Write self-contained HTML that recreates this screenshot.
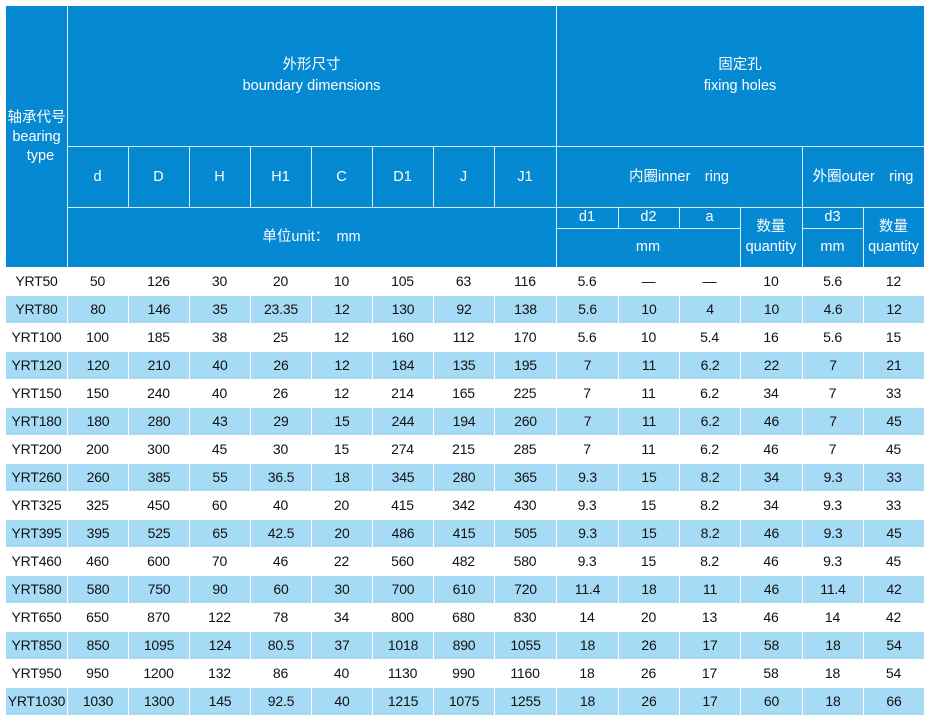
<!DOCTYPE html>
<html><head><meta charset="utf-8">
<style>
*{margin:0;padding:0;box-sizing:border-box}
html,body{width:930px;height:722px;background:#fff;overflow:hidden}
body{position:relative;font-family:"Liberation Sans","Noto Sans CJK SC",sans-serif}
#hd{position:absolute;left:6px;top:6px;width:918px;height:261px;background:#0689d3}
.v,.h{position:absolute;background:rgba(255,255,255,0.85)}
.v{width:1.3px}
.h{height:1.3px}
.t{position:absolute;color:#fff;font-size:14.5px;line-height:20px;text-align:center;white-space:nowrap}
.row{position:absolute;left:6px;width:918px;height:28px;display:flex}
.row div{height:28px;line-height:28px;text-align:center;font-size:14px;letter-spacing:-0.2px;color:#111;white-space:nowrap}
.row.b div{background:#a6dbf6;border-top:1px solid #fff;border-left:1px solid #fff;line-height:26px}
.row.b div:first-child{border-left:none}
</style></head><body>
<div id="hd"></div>
<div class="v" style="left:66.5px;top:6px;height:261px"></div>
<div class="v" style="left:556px;top:6px;height:261px"></div>
<div class="h" style="left:67px;top:146px;width:857px"></div>
<div class="h" style="left:67px;top:206.5px;width:857px"></div>
<div class="v" style="left:127.5px;top:146px;height:61px"></div>
<div class="v" style="left:188.5px;top:146px;height:61px"></div>
<div class="v" style="left:250px;top:146px;height:61px"></div>
<div class="v" style="left:311px;top:146px;height:61px"></div>
<div class="v" style="left:372px;top:146px;height:61px"></div>
<div class="v" style="left:433px;top:146px;height:61px"></div>
<div class="v" style="left:494px;top:146px;height:61px"></div>
<div class="v" style="left:801.5px;top:146px;height:121px"></div>
<div class="v" style="left:617.5px;top:207px;height:21px"></div>
<div class="v" style="left:679px;top:207px;height:21px"></div>
<div class="v" style="left:740px;top:207px;height:60px"></div>
<div class="v" style="left:862.5px;top:207px;height:60px"></div>
<div class="h" style="left:556px;top:228px;width:184px"></div>
<div class="h" style="left:802px;top:228px;width:61px"></div>

<div class="t" style="left:6px;width:61px;top:108px">轴承代号</div>
<div class="t" style="left:6px;width:61px;top:127px">bearing</div>
<div class="t" style="left:10px;width:61px;top:146px">type</div>

<div class="t" style="left:67px;width:489px;top:55px">外形尺寸</div>
<div class="t" style="left:67px;width:489px;top:76px">boundary dimensions</div>
<div class="t" style="left:556px;width:368px;top:55px">固定孔</div>
<div class="t" style="left:556px;width:368px;top:76px">fixing holes</div>

<div class="t" style="left:67px;width:61px;top:167px">d</div>
<div class="t" style="left:128px;width:61px;top:167px">D</div>
<div class="t" style="left:189px;width:61px;top:167px">H</div>
<div class="t" style="left:250px;width:61px;top:167px">H1</div>
<div class="t" style="left:311px;width:61px;top:167px">C</div>
<div class="t" style="left:372px;width:61px;top:167px">D1</div>
<div class="t" style="left:433px;width:61px;top:167px">J</div>
<div class="t" style="left:494px;width:62px;top:167px">J1</div>
<div class="t" style="left:556px;width:246px;top:167px">内圈inner　ring</div>
<div class="t" style="left:802px;width:122px;top:167px">外圈outer　ring</div>

<div class="t" style="left:67px;width:489px;top:227px">单位unit：　mm</div>
<div class="t" style="left:556px;width:62px;top:207px">d1</div>
<div class="t" style="left:618px;width:61px;top:207px">d2</div>
<div class="t" style="left:679px;width:61px;top:207px">a</div>
<div class="t" style="left:556px;width:184px;top:237px">mm</div>
<div class="t" style="left:740px;width:62px;top:217px">数量</div>
<div class="t" style="left:740px;width:62px;top:237px">quantity</div>
<div class="t" style="left:802px;width:61px;top:207px">d3</div>
<div class="t" style="left:802px;width:61px;top:237px">mm</div>
<div class="t" style="left:863px;width:61px;top:217px">数量</div>
<div class="t" style="left:863px;width:61px;top:237px">quantity</div>

<div class="row" style="top:267px"><div style="width:61px">YRT50</div><div style="width:61px">50</div><div style="width:61px">126</div><div style="width:61px">30</div><div style="width:61px">20</div><div style="width:61px">10</div><div style="width:61px">105</div><div style="width:61px">63</div><div style="width:62px">116</div><div style="width:62px">5.6</div><div style="width:61px">—</div><div style="width:61px">—</div><div style="width:62px">10</div><div style="width:61px">5.6</div><div style="width:61px">12</div></div>
<div class="row b" style="top:295px"><div style="width:61px">YRT80</div><div style="width:61px">80</div><div style="width:61px">146</div><div style="width:61px">35</div><div style="width:61px">23.35</div><div style="width:61px">12</div><div style="width:61px">130</div><div style="width:61px">92</div><div style="width:62px">138</div><div style="width:62px">5.6</div><div style="width:61px">10</div><div style="width:61px">4</div><div style="width:62px">10</div><div style="width:61px">4.6</div><div style="width:61px">12</div></div>
<div class="row" style="top:323px"><div style="width:61px">YRT100</div><div style="width:61px">100</div><div style="width:61px">185</div><div style="width:61px">38</div><div style="width:61px">25</div><div style="width:61px">12</div><div style="width:61px">160</div><div style="width:61px">112</div><div style="width:62px">170</div><div style="width:62px">5.6</div><div style="width:61px">10</div><div style="width:61px">5.4</div><div style="width:62px">16</div><div style="width:61px">5.6</div><div style="width:61px">15</div></div>
<div class="row b" style="top:351px"><div style="width:61px">YRT120</div><div style="width:61px">120</div><div style="width:61px">210</div><div style="width:61px">40</div><div style="width:61px">26</div><div style="width:61px">12</div><div style="width:61px">184</div><div style="width:61px">135</div><div style="width:62px">195</div><div style="width:62px">7</div><div style="width:61px">11</div><div style="width:61px">6.2</div><div style="width:62px">22</div><div style="width:61px">7</div><div style="width:61px">21</div></div>
<div class="row" style="top:379px"><div style="width:61px">YRT150</div><div style="width:61px">150</div><div style="width:61px">240</div><div style="width:61px">40</div><div style="width:61px">26</div><div style="width:61px">12</div><div style="width:61px">214</div><div style="width:61px">165</div><div style="width:62px">225</div><div style="width:62px">7</div><div style="width:61px">11</div><div style="width:61px">6.2</div><div style="width:62px">34</div><div style="width:61px">7</div><div style="width:61px">33</div></div>
<div class="row b" style="top:407px"><div style="width:61px">YRT180</div><div style="width:61px">180</div><div style="width:61px">280</div><div style="width:61px">43</div><div style="width:61px">29</div><div style="width:61px">15</div><div style="width:61px">244</div><div style="width:61px">194</div><div style="width:62px">260</div><div style="width:62px">7</div><div style="width:61px">11</div><div style="width:61px">6.2</div><div style="width:62px">46</div><div style="width:61px">7</div><div style="width:61px">45</div></div>
<div class="row" style="top:435px"><div style="width:61px">YRT200</div><div style="width:61px">200</div><div style="width:61px">300</div><div style="width:61px">45</div><div style="width:61px">30</div><div style="width:61px">15</div><div style="width:61px">274</div><div style="width:61px">215</div><div style="width:62px">285</div><div style="width:62px">7</div><div style="width:61px">11</div><div style="width:61px">6.2</div><div style="width:62px">46</div><div style="width:61px">7</div><div style="width:61px">45</div></div>
<div class="row b" style="top:463px"><div style="width:61px">YRT260</div><div style="width:61px">260</div><div style="width:61px">385</div><div style="width:61px">55</div><div style="width:61px">36.5</div><div style="width:61px">18</div><div style="width:61px">345</div><div style="width:61px">280</div><div style="width:62px">365</div><div style="width:62px">9.3</div><div style="width:61px">15</div><div style="width:61px">8.2</div><div style="width:62px">34</div><div style="width:61px">9.3</div><div style="width:61px">33</div></div>
<div class="row" style="top:491px"><div style="width:61px">YRT325</div><div style="width:61px">325</div><div style="width:61px">450</div><div style="width:61px">60</div><div style="width:61px">40</div><div style="width:61px">20</div><div style="width:61px">415</div><div style="width:61px">342</div><div style="width:62px">430</div><div style="width:62px">9.3</div><div style="width:61px">15</div><div style="width:61px">8.2</div><div style="width:62px">34</div><div style="width:61px">9.3</div><div style="width:61px">33</div></div>
<div class="row b" style="top:519px"><div style="width:61px">YRT395</div><div style="width:61px">395</div><div style="width:61px">525</div><div style="width:61px">65</div><div style="width:61px">42.5</div><div style="width:61px">20</div><div style="width:61px">486</div><div style="width:61px">415</div><div style="width:62px">505</div><div style="width:62px">9.3</div><div style="width:61px">15</div><div style="width:61px">8.2</div><div style="width:62px">46</div><div style="width:61px">9.3</div><div style="width:61px">45</div></div>
<div class="row" style="top:547px"><div style="width:61px">YRT460</div><div style="width:61px">460</div><div style="width:61px">600</div><div style="width:61px">70</div><div style="width:61px">46</div><div style="width:61px">22</div><div style="width:61px">560</div><div style="width:61px">482</div><div style="width:62px">580</div><div style="width:62px">9.3</div><div style="width:61px">15</div><div style="width:61px">8.2</div><div style="width:62px">46</div><div style="width:61px">9.3</div><div style="width:61px">45</div></div>
<div class="row b" style="top:575px"><div style="width:61px">YRT580</div><div style="width:61px">580</div><div style="width:61px">750</div><div style="width:61px">90</div><div style="width:61px">60</div><div style="width:61px">30</div><div style="width:61px">700</div><div style="width:61px">610</div><div style="width:62px">720</div><div style="width:62px">11.4</div><div style="width:61px">18</div><div style="width:61px">11</div><div style="width:62px">46</div><div style="width:61px">11.4</div><div style="width:61px">42</div></div>
<div class="row" style="top:603px"><div style="width:61px">YRT650</div><div style="width:61px">650</div><div style="width:61px">870</div><div style="width:61px">122</div><div style="width:61px">78</div><div style="width:61px">34</div><div style="width:61px">800</div><div style="width:61px">680</div><div style="width:62px">830</div><div style="width:62px">14</div><div style="width:61px">20</div><div style="width:61px">13</div><div style="width:62px">46</div><div style="width:61px">14</div><div style="width:61px">42</div></div>
<div class="row b" style="top:631px"><div style="width:61px">YRT850</div><div style="width:61px">850</div><div style="width:61px">1095</div><div style="width:61px">124</div><div style="width:61px">80.5</div><div style="width:61px">37</div><div style="width:61px">1018</div><div style="width:61px">890</div><div style="width:62px">1055</div><div style="width:62px">18</div><div style="width:61px">26</div><div style="width:61px">17</div><div style="width:62px">58</div><div style="width:61px">18</div><div style="width:61px">54</div></div>
<div class="row" style="top:659px"><div style="width:61px">YRT950</div><div style="width:61px">950</div><div style="width:61px">1200</div><div style="width:61px">132</div><div style="width:61px">86</div><div style="width:61px">40</div><div style="width:61px">1130</div><div style="width:61px">990</div><div style="width:62px">1160</div><div style="width:62px">18</div><div style="width:61px">26</div><div style="width:61px">17</div><div style="width:62px">58</div><div style="width:61px">18</div><div style="width:61px">54</div></div>
<div class="row b" style="top:687px"><div style="width:61px">YRT1030</div><div style="width:61px">1030</div><div style="width:61px">1300</div><div style="width:61px">145</div><div style="width:61px">92.5</div><div style="width:61px">40</div><div style="width:61px">1215</div><div style="width:61px">1075</div><div style="width:62px">1255</div><div style="width:62px">18</div><div style="width:61px">26</div><div style="width:61px">17</div><div style="width:62px">60</div><div style="width:61px">18</div><div style="width:61px">66</div></div>
</body></html>
